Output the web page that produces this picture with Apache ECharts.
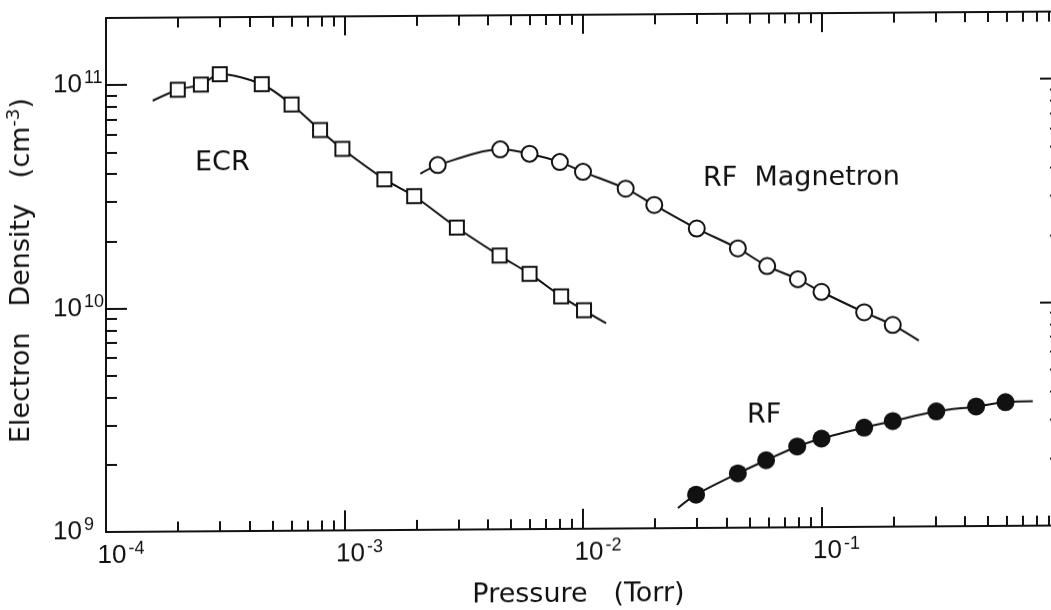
<!DOCTYPE html>
<html>
<head>
<meta charset="utf-8">
<script src="https://cdn.jsdelivr.net/npm/echarts@6.0.0/dist/echarts.min.js"></script>
<style>
  html, body { margin: 0; padding: 0; background: #fff; overflow: hidden; }
  #chart { width: 1051px; height: 610px; transform: skewY(-0.39deg); transform-origin: 106px 0; }
</style>
</head>
<body>
<div id="chart"></div>
<script>
// Electron density (cm^-3) versus pressure (Torr) for three plasma sources.

// ECR source
const ecrPressure = [2.0e-4, 2.5e-4, 3.0e-4, 4.5e-4, 6.0e-4, 7.9e-4, 9.8e-4, 1.47e-3, 1.96e-3, 2.96e-3, 4.47e-3, 5.97e-3, 8.1e-3, 1.01e-2];
const ecrDensity  = [9.5e10, 1.0e11, 1.11e11, 1.0e11, 8.1e10, 6.2e10, 5.1e10, 3.72e10, 3.12e10, 2.25e10, 1.68e10, 1.39e10, 1.10e10, 9.5e9];
const ecrCurveStart = [1.57e-4, 8.5e10];
const ecrCurveEnd   = [1.25e-2, 8.3e9];

// RF magnetron source
const magPressure = [2.46e-3, 4.5e-3, 5.97e-3, 8.0e-3, 1.0e-2, 1.51e-2, 1.99e-2, 3.0e-2, 4.46e-2, 5.92e-2, 7.96e-2, 0.1, 0.151, 0.199];
const magDensity  = [4.29e10, 5.02e10, 4.79e10, 4.39e10, 3.96e10, 3.32e10, 2.8e10, 2.19e10, 1.78e10, 1.48e10, 1.29e10, 1.13e10, 9.13e9, 8.0e9];
const magCurveStart = [2.08e-3, 3.93e10];
const magCurveEnd   = [0.256, 6.8e9];

// RF (diode) source
const rfPressure = [2.98e-2, 4.46e-2, 5.86e-2, 7.91e-2, 0.1, 0.151, 0.199, 0.303, 0.445, 0.591];
const rfDensity  = [1.41e9, 1.75e9, 2.0e9, 2.3e9, 2.49e9, 2.78e9, 2.97e9, 3.27e9, 3.43e9, 3.58e9];
const rfCurveStart = [2.5e-2, 1.23e9];
const rfCurveEnd   = [0.769, 3.61e9];

// Axis ranges and labelled decades
const xRange = [1e-4, 1];
const yRange = [1e9, 2e11];
const xDecades = [1e-4, 1e-3, 1e-2, 1e-1];
const yDecades = [1e9, 1e10, 1e11];
const xTitle = 'Pressure   (Torr)';
const yTitle = '{t|Electron   Density   (cm}{u|-3}{t|)}';

// Intermediate log ticks (2..9 within each decade)
function minorTicks(lo, hi) {
  const out = [];
  for (let d = lo; d < hi * 0.999; d *= 10) {
    for (let k = 2; k <= 9; k++) {
      const v = +(k * d).toPrecision(6);
      if (v < hi * 0.999) out.push(v);
    }
  }
  return out;
}
const xMinor = minorTicks(xRange[0], xRange[1]);
const yMinor = minorTicks(yRange[0], yRange[1]);

const ink = '#111';
const labelFont = 'Liberation Sans, Arial, sans-serif';
const titleFont = 'DejaVu Sans, sans-serif';

const powRich = {
  sp: { width: 30, fontSize: 26, fontFamily: labelFont },
  b: { fontSize: 26, lineHeight: 32, fontFamily: labelFont, color: ink },
  s: { fontSize: 18, lineHeight: 18, verticalAlign: 'top', fontFamily: labelFont, color: ink, padding: [0, 0, 0, 2] }
};

function expOf(v) { return Math.round(Math.log10(v)); }

function axisBase(range) {
  return {
    type: 'log', logBase: 10, min: range[0], max: range[1],
    splitLine: { show: false },
    axisLine: { show: false, onZero: false },
    axisLabel: { show: false }
  };
}
function lineStyle() { return { show: true, onZero: false, lineStyle: { color: ink, width: 2 } }; }
function tickStyle(len, values) {
  return { show: true, inside: true, length: len, customValues: values, lineStyle: { color: ink, width: 2 } };
}

const xAxes = [
  Object.assign(axisBase(xRange), {
    position: 'bottom',
    axisLine: lineStyle(),
    axisTick: tickStyle(20, xDecades),
    axisLabel: {
      show: true, customValues: xDecades, margin: 8, align: 'center',
      formatter: v => { const e = expOf(v); return e === 0 ? '' : '{sp| }{b|10}{s|' + e + '}'; },
      rich: powRich
    },
    name: xTitle, nameLocation: 'middle', nameGap: 52,
    nameTextStyle: { fontFamily: titleFont, fontSize: 27, color: ink, padding: [0, 9, 0, 0] }
  }),
  Object.assign(axisBase(xRange), { position: 'bottom', axisTick: tickStyle(10, xMinor) }),
  Object.assign(axisBase(xRange), { position: 'top', axisLine: lineStyle(), axisTick: tickStyle(19, xDecades) }),
  Object.assign(axisBase(xRange), { position: 'top', axisTick: tickStyle(10, xMinor) })
];

const yAxes = [
  Object.assign(axisBase(yRange), {
    position: 'left',
    axisLine: lineStyle(),
    axisTick: tickStyle(21, yDecades),
    axisLabel: {
      show: true, customValues: yDecades, margin: 53, align: 'left',
      formatter: v => '{b|10}{s|' + expOf(v) + '}',
      rich: powRich
    },
    name: yTitle, nameLocation: 'middle', nameRotate: 90, nameGap: 67,
    nameTextStyle: {
      padding: [0, 0, 0, 10],
      rich: {
        t: { fontFamily: titleFont, fontSize: 27, lineHeight: 34, color: ink },
        u: { fontFamily: titleFont, fontSize: 18, lineHeight: 18, verticalAlign: 'top', color: ink }
      }
    }
  }),
  Object.assign(axisBase(yRange), { position: 'left', axisTick: tickStyle(11, yMinor) }),
  Object.assign(axisBase(yRange), { position: 'right', axisLine: lineStyle(), axisTick: tickStyle(20, yDecades) }),
  Object.assign(axisBase(yRange), { position: 'right', axisTick: tickStyle(10, yMinor) })
];

function pairs(xs, ys) { return xs.map((x, i) => [x, ys[i]]); }
function curve(start, xs, ys, end) { return [start].concat(pairs(xs, ys), [end]); }

function curveSeries(data) {
  return { type: 'line', data: data, smooth: 0.3, symbol: 'none', z: 2, silent: true,
           lineStyle: { color: ink, width: 2 } };
}
function markerSeries(data, symbol, size, fill) {
  return { type: 'scatter', data: data, symbol: symbol, symbolSize: size, z: 3, silent: true,
           itemStyle: { color: fill, borderColor: ink, borderWidth: fill === ink ? 0 : 2, opacity: 1 } };
}

const annotationStyle = { fontFamily: titleFont, fontSize: 27, fill: ink, verticalAlign: 'top' };

const chart = echarts.init(document.getElementById('chart'), null, { renderer: 'canvas' });
chart.setOption({
  animation: false,
  backgroundColor: '#fff',
  grid: { left: 106, top: 18, width: 954, bottom: 78, outerBoundsMode: 'none', containLabel: false },
  xAxis: xAxes,
  yAxis: yAxes,
  series: [
    curveSeries(curve(ecrCurveStart, ecrPressure, ecrDensity, ecrCurveEnd)),
    markerSeries(pairs(ecrPressure, ecrDensity), 'rect', 14, '#fff'),
    curveSeries(curve(magCurveStart, magPressure, magDensity, magCurveEnd)),
    markerSeries(pairs(magPressure, magDensity), 'circle', 16, '#fff'),
    curveSeries(curve(rfCurveStart, rfPressure, rfDensity, rfCurveEnd)),
    markerSeries(pairs(rfPressure, rfDensity), 'circle', 18, ink)
  ],
  graphic: [
    { type: 'text', left: 195, top: 150, style: Object.assign({ text: 'ECR' }, annotationStyle) },
    { type: 'text', left: 703, top: 169, style: Object.assign({ text: 'RF  Magnetron' }, annotationStyle) },
    { type: 'text', left: 747, top: 406, style: Object.assign({ text: 'RF' }, annotationStyle) }
  ]
});
</script>
</body>
</html>
